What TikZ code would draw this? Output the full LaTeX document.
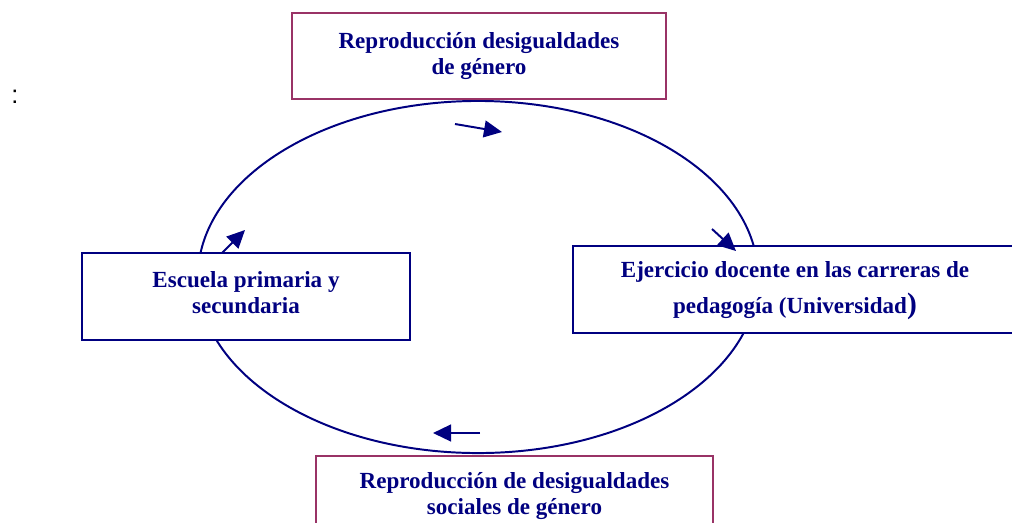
\documentclass[tikz,border=0pt]{standalone}
\usepackage{fontspec}
\setmainfont{Liberation Serif}
\newfontfamily\colonfont{Liberation Sans}
\usetikzlibrary{arrows.meta}
\definecolor{navyblue}{RGB}{0,0,128}
\definecolor{plum}{RGB}{153,51,102}

\begin{document}
\begin{tikzpicture}[x=0.025cm, y=-0.025cm,
  box/.style={draw=navyblue, line width=1.5pt, fill=white, align=center,
    text=navyblue, font=\fontsize{16.4}{18.5}\selectfont\bfseries, inner sep=0pt},
  redbox/.style={box, draw=plum},
  flow/.style={-{Triangle[length=0.45cm, width=0.42cm]}, navyblue, line width=1.4pt}]

% Fix the page size
\useasboundingbox (0,0) rectangle (1012,522);

% Cycle
\draw[navyblue, line width=1.4pt] (478,277) ellipse [x radius=7cm, y radius=4.4cm];

% Boxes
\node[redbox, minimum width=374*0.025cm, minimum height=86*0.025cm] (top) at (479,56)
  {Reproducción desigualdades\\de género};
\node[box, minimum width=328*0.025cm, minimum height=87*0.025cm, text depth=6pt] (school) at (246,296.5)
  {Escuela primaria y\\secundaria};
\node[box, minimum width=444*0.025cm, minimum height=87*0.025cm] (univ) at (795,289.5)
  {\rule{0pt}{13pt}Ejercicio docente en las carreras de\\[7pt]pedagogía (Universidad{\fontsize{21}{21}\selectfont)}};
\node[redbox, minimum width=397*0.025cm, minimum height=80*0.025cm] (bottom) at (514.5,496)
  {Reproducción de desigualdades\\sociales de género};

% Colon
\node[font=\colonfont\fontsize{18}{18}\selectfont, inner sep=0pt] (colon) at (15,97) {:};

% Arrows on the cycle
\coordinate (a1) at (455,124);
\coordinate (a2) at (502,132);
\coordinate (b1) at (712,229);
\coordinate (b2) at (736,251);
\coordinate (c1) at (480,433);
\coordinate (c2) at (433,433);
\coordinate (d1) at (222,253);
\coordinate (d2) at (245,230);
\draw[flow] (a1) -- (a2);
\draw[flow] (b1) -- (b2);
\draw[flow] (c1) -- (c2);
\draw[flow] (d1) -- (d2);

\end{tikzpicture}
\end{document}
